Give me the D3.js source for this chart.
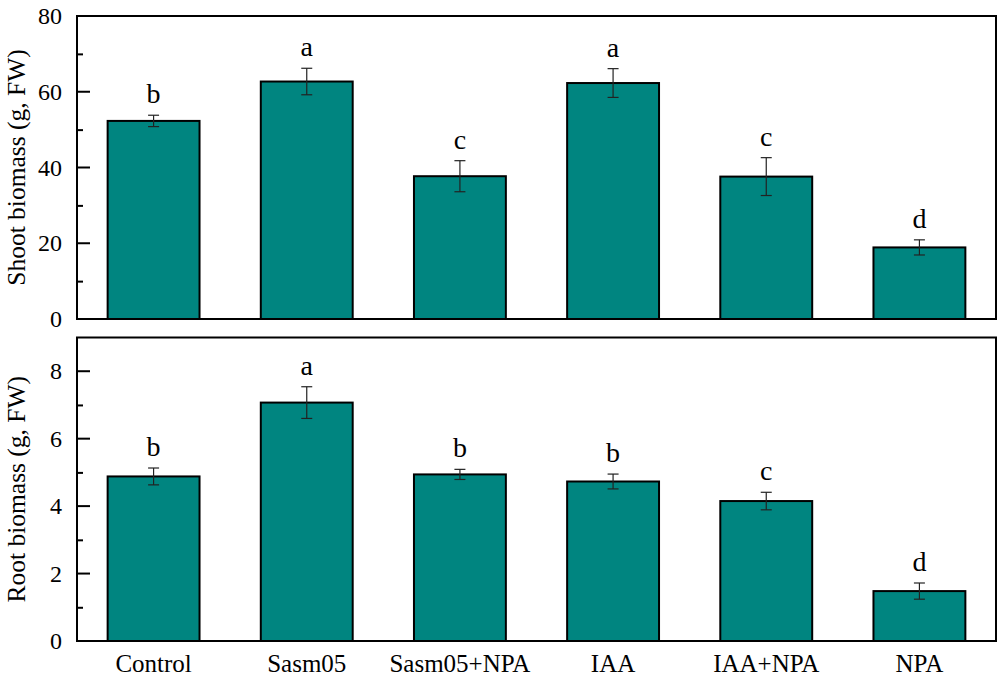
<!DOCTYPE html>
<html>
<head>
<meta charset="utf-8">
<script src="https://cdn.jsdelivr.net/npm/d3@7"></script>
<style>
  body { margin: 0; background: #fff; }
  svg text { font-family: "Liberation Serif", "Times New Roman", serif; fill: #000; }
</style>
</head>
<body>
<div id="chart"></div>
<script>
// treatments along the x axis
const categories = ["Control", "Sasm05", "Sasm05+NPA", "IAA", "IAA+NPA", "NPA"];

// shoot biomass (g, FW)
const shootMean = [52.3, 62.7, 37.7, 62.3, 37.6, 18.9];
const shootErr = [1.5, 3.5, 4.1, 3.8, 5.0, 2.0];
const shootLetters = ["b", "a", "c", "a", "c", "d"];
const shootTicks = [0, 20, 40, 60, 80];

// root biomass (g, FW)
const rootMean = [4.88, 7.07, 4.94, 4.73, 4.15, 1.48];
const rootErr = [0.25, 0.47, 0.15, 0.22, 0.26, 0.24];
const rootLetters = ["b", "a", "b", "b", "c", "d"];
const rootTicks = [0, 2, 4, 6, 8];

const W = 1000, H = 679;
const left = 77, right = 996;

const svg = d3.select("#chart").append("svg")
    .attr("width", W)
    .attr("height", H);

const x = d3.scaleBand()
    .domain(categories)
    .range([left, right])
    .paddingInner(0.4)
    .paddingOuter(0.2);

function panel(top, bottom, yMax, majorStep, ticks, means, errs, letters, title) {
    const y = d3.scaleLinear()
        .domain([0, yMax])
        .range([bottom, top]);

    const g = svg.append("g");

    // bars
    g.selectAll(".bar")
        .data(means)
        .enter().append("rect")
        .attr("class", "bar")
        .attr("x", (d, i) => x(categories[i]))
        .attr("y", d => y(d))
        .attr("width", x.bandwidth())
        .attr("height", d => y(0) - y(d))
        .attr("fill", "#008580")
        .attr("stroke", "#000")
        .attr("stroke-width", 2);

    // error bars
    const cap = 5.5;
    const eb = g.selectAll(".err")
        .data(means)
        .enter().append("g")
        .attr("class", "err")
        .attr("stroke", "#222")
        .attr("stroke-width", 1.2);
    eb.append("line")
        .attr("x1", (d, i) => x(categories[i]) + x.bandwidth() / 2)
        .attr("x2", (d, i) => x(categories[i]) + x.bandwidth() / 2)
        .attr("y1", (d, i) => y(d - errs[i]))
        .attr("y2", (d, i) => y(d + errs[i]));
    eb.append("line")
        .attr("x1", (d, i) => x(categories[i]) + x.bandwidth() / 2 - cap)
        .attr("x2", (d, i) => x(categories[i]) + x.bandwidth() / 2 + cap)
        .attr("y1", (d, i) => y(d + errs[i]))
        .attr("y2", (d, i) => y(d + errs[i]));
    eb.append("line")
        .attr("x1", (d, i) => x(categories[i]) + x.bandwidth() / 2 - cap)
        .attr("x2", (d, i) => x(categories[i]) + x.bandwidth() / 2 + cap)
        .attr("y1", (d, i) => y(d - errs[i]))
        .attr("y2", (d, i) => y(d - errs[i]));

    // significance letters
    g.selectAll(".letter")
        .data(means)
        .enter().append("text")
        .attr("class", "letter")
        .attr("x", (d, i) => x(categories[i]) + x.bandwidth() / 2)
        .attr("y", (d, i) => y(d + errs[i]) - 12)
        .attr("text-anchor", "middle")
        .style("font-size", "28px")
        .text((d, i) => letters[i]);

    // y axis: inward ticks, major + minor
    const minor = d3.range(majorStep / 2, yMax, majorStep);
    const yMinor = d3.axisRight(y).tickValues(minor).tickSize(6).tickFormat("");
    g.append("g")
        .attr("transform", "translate(" + left + ",0)")
        .call(yMinor)
        .call(a => a.select(".domain").remove())
        .call(a => a.selectAll("line").attr("stroke", "#000").attr("stroke-width", 2));

    const yAxis = d3.axisLeft(y).tickValues(ticks).tickSize(0).tickPadding(15);
    g.append("g")
        .attr("transform", "translate(" + left + ",0)")
        .call(yAxis)
        .call(a => a.select(".domain").remove())
        .call(a => a.selectAll("text").style("font-size", "24px").style("font-family", "Liberation Serif"));

    g.selectAll(".major")
        .data(ticks.filter(t => t > 0 && t < yMax))
        .enter().append("line")
        .attr("class", "major")
        .attr("x1", left)
        .attr("x2", left + 13)
        .attr("y1", d => y(d))
        .attr("y2", d => y(d))
        .attr("stroke", "#000")
        .attr("stroke-width", 2);

    // frame
    g.append("rect")
        .attr("x", left)
        .attr("y", top)
        .attr("width", right - left)
        .attr("height", bottom - top)
        .attr("fill", "none")
        .attr("stroke", "#000")
        .attr("stroke-width", 2);

    // y title
    g.append("text")
        .attr("transform", "translate(25," + ((top + bottom) / 2) + ") rotate(-90)")
        .attr("text-anchor", "middle")
        .style("font-size", "25.5px")
        .text(title);

    return y;
}

panel(16, 319, 80, 20, shootTicks, shootMean, shootErr, shootLetters, "Shoot biomass (g, FW)");
panel(337.5, 641, 9, 2, rootTicks, rootMean, rootErr, rootLetters, "Root biomass (g, FW)");

// x axis labels
const xAxis = d3.axisBottom(x).tickSize(0).tickPadding(13);
svg.append("g")
    .attr("transform", "translate(0,641)")
    .call(xAxis)
    .call(a => a.select(".domain").remove())
    .call(a => a.selectAll("text").style("font-size", "25px").style("font-family", "Liberation Serif"));
</script>
</body>
</html>
